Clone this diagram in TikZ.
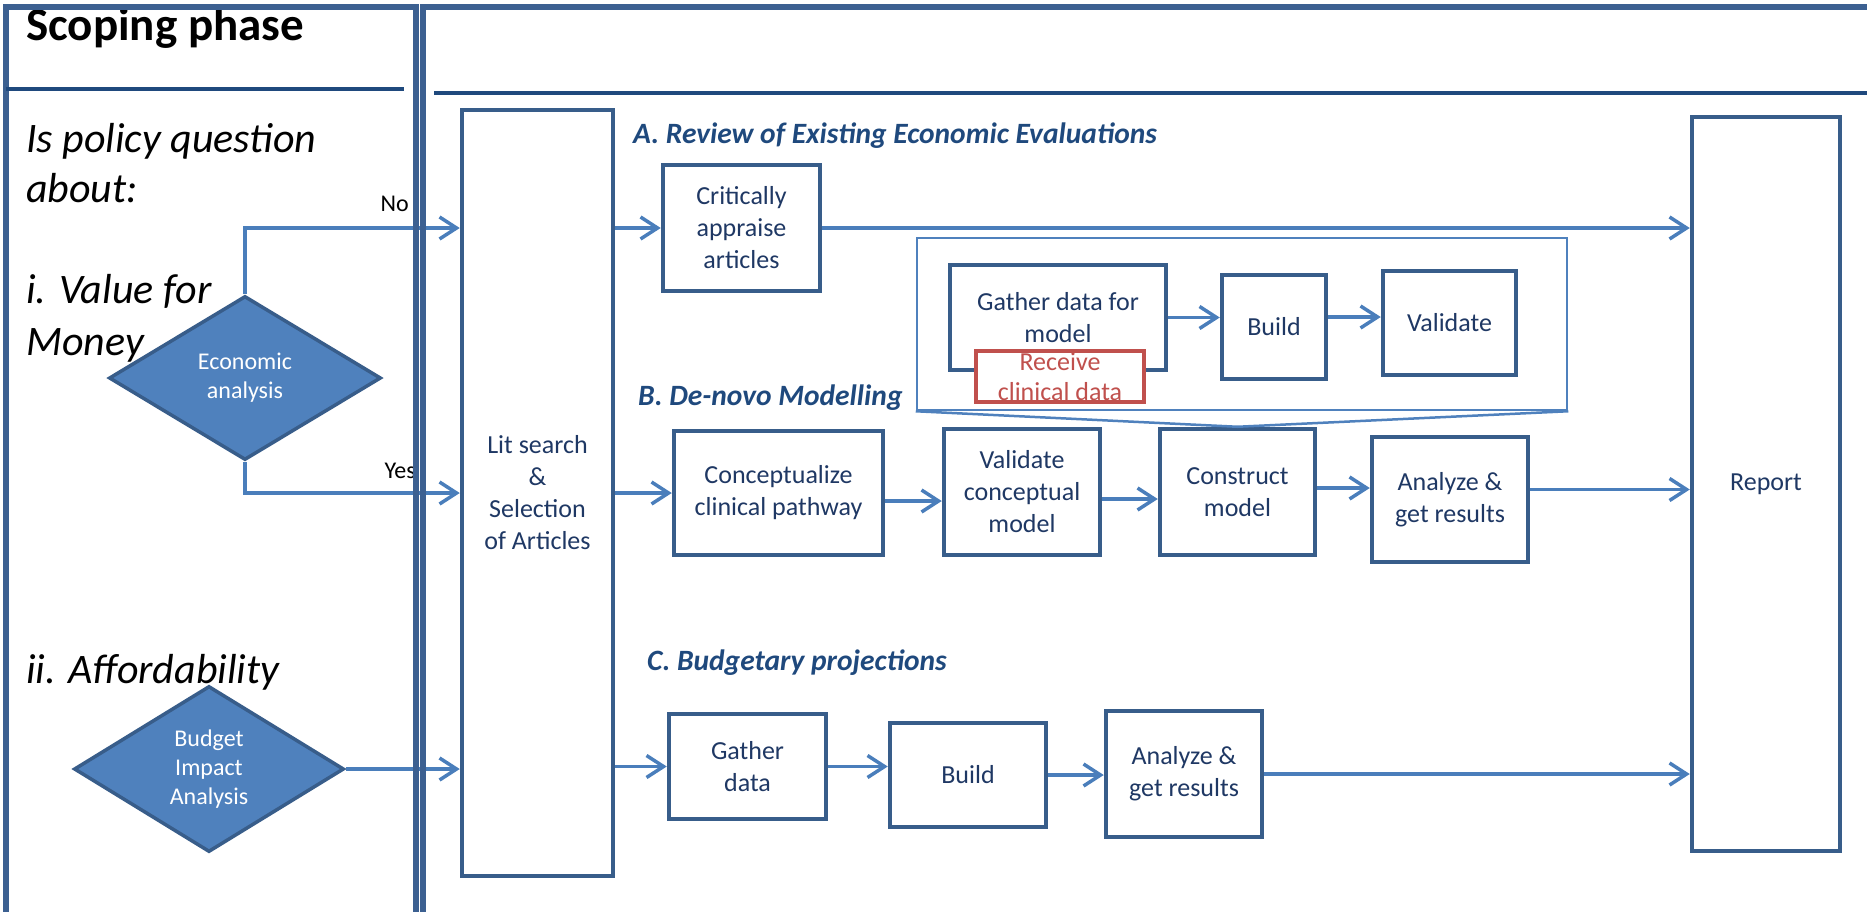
\documentclass[tikz,border=0pt]{standalone}
\usepackage{fontspec}
\setmainfont{Carlito}
\usetikzlibrary{arrows.meta,shapes.geometric}

\definecolor{laneblue}{RGB}{60,96,145}
\definecolor{navyblue}{RGB}{31,73,125}
\definecolor{boxblue}{RGB}{56,93,138}
\definecolor{linkblue}{RGB}{74,126,187}
\definecolor{fillblue}{RGB}{79,129,189}
\definecolor{textblue}{RGB}{31,56,100}
\definecolor{warnred}{RGB}{192,80,77}

\tikzset{
	proc/.style={draw=boxblue, line width=4.5pt, fill=white, text=textblue, align=center, inner sep=0pt, font=\fontsize{26}{32}\selectfont},
	decision/.style={diamond, draw=boxblue, line width=3.5pt, fill=fillblue, text=white, align=center, inner sep=0pt, font=\fontsize{24}{29}\selectfont},
	link/.style={draw=linkblue, line width=3.5pt, -{Straight Barb[length=17pt,width=22pt]}},
	lane/.style={draw=laneblue, line width=5.5pt},
	question/.style={anchor=base west, inner sep=0pt, font=\fontsize{42}{51}\selectfont\itshape},
	section/.style={anchor=base west, inner sep=0pt, text=navyblue, font=\fontsize{29.5}{34}\selectfont\bfseries\itshape},
	answer/.style={anchor=base east, inner sep=0pt, font=\fontsize{24}{29}\selectfont},
}

\begin{document}
\begin{tikzpicture}[x=1pt, y=-1pt]
		%%%%% START %%%%%
		\useasboundingbox (0,0) rectangle (1867,911);
		
		% scoping lane
		\node[anchor=base west, inner sep=0pt, font=\fontsize{47}{54}\selectfont\bfseries] (title) at (26,40) {Scoping phase};
		\node[question] (qa) at (26,152) {Is policy question};
		\node[question] (qb) at (26,202) {about:};
		\node[question] (qc) at (26,303) {i. Value for};
		\node[question] (qd) at (26,355) {Money};
		\node[question] (qe) at (26,683) {ii. Affordability};
		
		\node[decision, minimum width=272pt, minimum height=164pt] (econ) at (245,378) {Economic\\analysis};
		\node[decision, minimum width=270pt, minimum height=166pt] (budget) at (209,769) {Budget\\Impact\\Analysis};
		
		% evaluation lane
		\node[proc, minimum width=151pt, minimum height=766pt] (lit) at (537.5,493) {Lit search\\\&\\Selection\\of Articles};
		\node[proc, minimum width=148pt, minimum height=734pt] (report) at (1766,484) {Report};
		
		\node[section] (headA) at (633,143) {A. Review of Existing Economic Evaluations};
		\node[section] (headB) at (638,405) {B. De-novo Modelling};
		\node[section] (headC) at (647,670) {C. Budgetary projections};
		
		\node[proc, minimum width=157pt, minimum height=126pt] (crit) at (741.5,228) {Critically\\appraise\\articles};
		
		\node[proc, minimum width=209pt, minimum height=124pt] (concept) at (778.5,493) {Conceptualize\\clinical pathway};
		\node[proc, minimum width=156pt, minimum height=126pt] (valconc) at (1022,492) {Validate\\conceptual\\model};
		\node[proc, minimum width=155pt, minimum height=126pt] (construct) at (1237.5,492) {Construct\\model};
		\node[proc, minimum width=156pt, minimum height=125pt] (resultsB) at (1450,499.5) {Analyze \&\\get results};
		
		\node[proc, minimum width=157pt, minimum height=105pt] (gatherC) at (747.5,766.5) {Gather\\data};
		\node[proc, minimum width=156pt, minimum height=104pt] (buildC) at (968,775) {Build};
		\node[proc, minimum width=156pt, minimum height=126pt] (resultsC) at (1184,774) {Analyze \&\\get results};
		
		% zoom on construct model
		\node[draw=fillblue, line width=2.5pt, minimum width=650pt, minimum height=172pt, inner sep=0pt] (zoomframe) at (1242,324) {};
		\draw[draw=fillblue, line width=2.5pt] (zoomframe.south west) -- (construct.north) -- (zoomframe.south east);
		\node[proc, minimum width=216pt, minimum height=105pt] (gatherM) at (1058,317.5) {Gather data for\\model};
		\node[proc, draw=warnred, line width=3.5pt, text=warnred, minimum width=168pt, minimum height=51pt, font=\fontsize{26}{30}\selectfont] (receive) at (1060,376.5) {Receive\\clinical data};
		\node[proc, minimum width=104pt, minimum height=104pt] (buildM) at (1274,327) {Build};
		\node[proc, minimum width=133pt, minimum height=104pt] (validM) at (1449.5,323) {Validate};
		
		% connectors
		\draw[link] (econ.north) |- (lit.west |- crit.west);
		\draw[link] (econ.south) |- (lit.west |- concept.west);
		\draw[link] (budget.east) -- (budget.east -| lit.west);
		\node[answer] (noLbl) at (409,211) {No};
		\node[answer] (yesLbl) at (416,478) {Yes};
		
		\draw[link] (lit.east |- crit.west) -- (crit.west);
		\draw[link] (crit.east) -- (crit.east -| report.west);
		
		\draw[link] (lit.east |- concept.west) -- (concept.west);
		\draw[link] ([yshift=-8pt]concept.east) -- ([yshift=-8pt]concept.east -| valconc.west);
		\draw[link] ([yshift=-7pt]valconc.east) -- ([yshift=-7pt]valconc.east -| construct.west);
		\draw[link] ([yshift=4pt]construct.east) -- ([yshift=4pt]construct.east -| resultsB.west);
		\draw[link] ([yshift=10pt]resultsB.east) -- ([yshift=10pt]resultsB.east -| report.west);
		
		\draw[link] (lit.east |- gatherC.west) -- (gatherC.west);
		\draw[link] (gatherC.east) -- (gatherC.east -| buildC.west);
		\draw[link] (buildC.east) -- (buildC.east -| resultsC.west);
		\draw[link] (resultsC.east) -- (resultsC.east -| report.west);
		
		\draw[link] (gatherM.east) -- (gatherM.east -| buildM.west);
		\draw[link] ([yshift=10pt]buildM.east) -- ([yshift=10pt]buildM.east -| validM.west);
		
		% lanes
		\draw[lane] (6,915) -- (6,7) -- (416,7) -- (416,915);
		\draw[lane] (423,915) -- (423,7) -- (1872,7);
		\draw[draw=navyblue, line width=4.5pt] (6,89) -- (404,89);
		\draw[draw=navyblue, line width=4.5pt] (434,93) -- (1872,93);
		
		%%%%% END %%%%%
	\end{tikzpicture}
\end{document}
